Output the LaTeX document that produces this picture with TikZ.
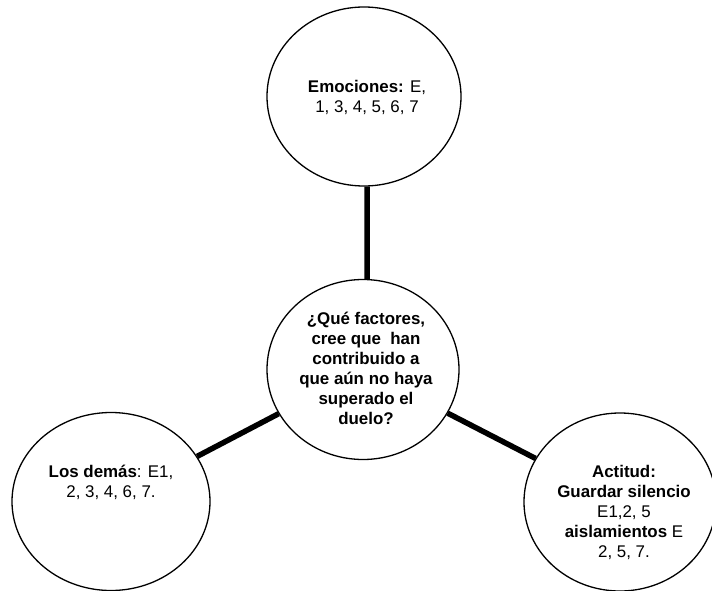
\documentclass[tikz,border=0pt]{standalone}
\usepackage{fontspec}
\setmainfont{Liberation Sans}
\usetikzlibrary{shapes.geometric}
\begin{document}
\begin{tikzpicture}[x=1bp,y=-1bp,
  bubble/.style={draw, ellipse, line width=1.3bp, inner sep=0pt},
  label text/.style={align=center, inner sep=0pt,
    font=\fontsize{16.9bp}{20bp}\selectfont},
  link/.style={line width=5.5bp}]
\useasboundingbox (0,0) rectangle (712,591);

% bubbles
\node[bubble, minimum width=194bp, minimum height=179bp] (emo) at (364,96.5) {};
\node[bubble, minimum width=192bp, minimum height=180bp] (q) at (363,369.5) {};
\node[bubble, minimum width=198bp, minimum height=178bp] (dem) at (111,501.5) {};
\node[bubble, minimum width=192bp, minimum height=178bp] (act) at (620,502) {};

% texts
\node[label text] (emoT) at (367,97) {\textbf{Emociones:} E,\\1, 3, 4, 5, 6, 7};
\node[label text] (qT) at (366,368) {\textbf{¿Qué factores,}\\\textbf{cree que~ han}\\\textbf{contribuido a}\\\textbf{que aún no haya}\\\textbf{superado el}\\\textbf{duelo?}};
\node[label text] (demT) at (111,482) {\textbf{Los demás}: E1,\\2, 3, 4, 6, 7.};
\node[label text] (actT) at (624,512) {\textbf{Actitud:}\\\textbf{Guardar silencio}\\E1,2, 5\\\textbf{aislamientos} E\\2, 5, 7.};

% connectors
\draw[link] ([xshift=3bp]emo.south) -- ([xshift=4bp]q.north);
\draw[link] (dem) -- (q);
\draw[link] (q) -- (act);
\end{tikzpicture}
\end{document}
